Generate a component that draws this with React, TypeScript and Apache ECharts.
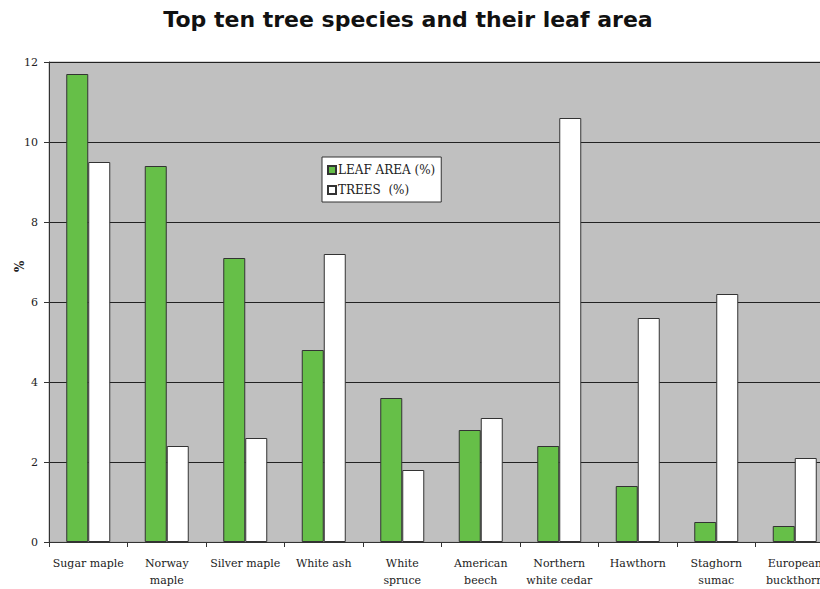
import React, { useEffect, useRef } from "react";
import * as echarts from "echarts";

const categories = [
  "Sugar maple",
  "Norway\nmaple",
  "Silver maple",
  "White ash",
  "White\nspruce",
  "American\nbeech",
  "Northern\nwhite cedar",
  "Hawthorn",
  "Staghorn\nsumac",
  "European\nbuckthorn",
];
const leafArea = [11.7, 9.4, 7.1, 4.8, 3.6, 2.8, 2.4, 1.4, 0.5, 0.4];
const trees = [9.5, 2.4, 2.6, 7.2, 1.8, 3.1, 10.6, 5.6, 6.2, 2.1];
const yTicks = { min: 0, max: 12, interval: 2 };

const serif = "'DejaVu Serif', 'Liberation Serif', serif";

export default function App() {
  const ref = useRef<HTMLDivElement>(null);
  useEffect(() => {
    if (!ref.current) return;
    const chart = echarts.init(ref.current, undefined, { renderer: "svg" });
    chart.setOption({
      animation: false,
      backgroundColor: "#ffffff",
      title: {
        text: "Top ten tree species and their leaf area",
        left: 403,
        textAlign: "center",
        top: 3,
        textStyle: {
          fontFamily: "'DejaVu Sans', sans-serif",
          fontWeight: "bold",
          fontSize: 22,
          color: "#111",
        },
      },
      legend: {
        left: 322,
        top: 157,
        orient: "vertical",
        backgroundColor: "#ffffff",
        borderColor: "#333",
        borderWidth: 1,
        borderRadius: 0,
        padding: [7, 6, 6, 5],
        itemWidth: 8,
        itemHeight: 8,
        itemGap: 8,
        icon: "rect",
        textStyle: { fontFamily: serif, fontSize: 12, color: "#222", padding: [0, 0, 0, -3] },
        data: ["LEAF AREA (%)", "TREES  (%)"],
      },
      graphic: [
        {
          type: "text",
          x: 14,
          y: 272,
          rotation: Math.PI / 2,
          style: { text: "%", font: "bold 12px " + serif, fill: "#222" },
        },
      ],
      grid: {
        left: 49,
        top: 62,
        width: 785,
        height: 483,
        show: true,
        backgroundColor: "#c0c0c0",
        borderColor: "#a8a8a8",
        borderWidth: 1,
        containLabel: false,
      },
      xAxis: {
        type: "category",
        data: categories,
        axisLine: { lineStyle: { color: "#333", width: 1 } },
        axisTick: { show: true, length: 5, lineStyle: { color: "#333" } },
        axisLabel: {
          fontFamily: serif,
          fontSize: 11,
          color: "#222",
          margin: 13,
          lineHeight: 17,
          interval: 0,
        },
      },
      yAxis: {
        type: "value",
        min: yTicks.min,
        max: yTicks.max,
        interval: yTicks.interval,
        axisLine: { show: true, lineStyle: { color: "#333", width: 1 } },
        axisTick: { show: true, length: 5, lineStyle: { color: "#333" } },
        axisLabel: { fontFamily: serif, fontSize: 11, color: "#222", margin: 11 },
        splitLine: { show: true, lineStyle: { color: "#222", width: 1 } },
      },
      series: [
        {
          name: "LEAF AREA (%)",
          type: "bar",
          data: leafArea,
          barWidth: 22,
          barGap: "0%",
          itemStyle: { color: "#66bf48", borderColor: "#333", borderWidth: 1 },
        },
        {
          name: "TREES  (%)",
          type: "bar",
          data: trees,
          barWidth: 22,
          barGap: "0%",
          itemStyle: { color: "#ffffff", borderColor: "#333", borderWidth: 1 },
        },
      ],
    });
    return () => chart.dispose();
  }, []);
  return (
    <div
      style={{
        position: "fixed",
        left: 0,
        top: 0,
        width: 820,
        height: 589,
        overflow: "hidden",
        background: "#fff",
      }}
    >
      <div ref={ref} style={{ width: 834, height: 589 }} />
    </div>
  );
}
